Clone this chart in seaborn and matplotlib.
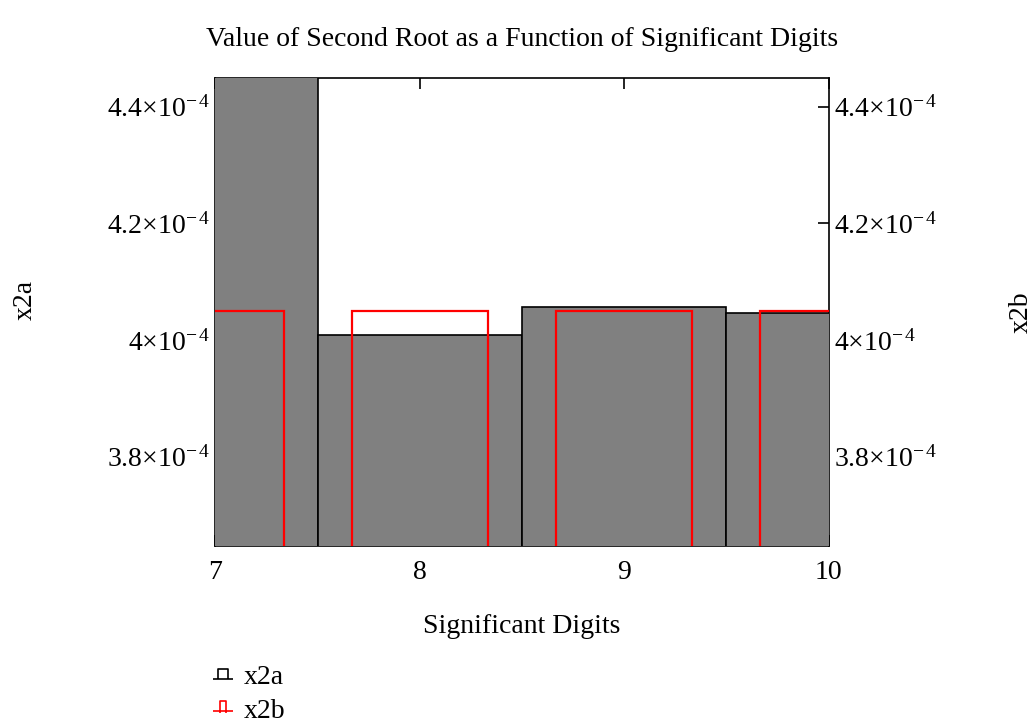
import matplotlib
matplotlib.use('Agg')
import matplotlib.pyplot as plt
import seaborn as sns
import pandas as pd
from matplotlib.path import Path
from matplotlib.lines import Line2D
from matplotlib.ticker import FuncFormatter, FixedLocator

# ── Data ──────────────────────────────────────────────────────────────────────
digits = [7, 8, 9, 10]
x2a = [4.52e-4, 4.009e-4, 4.057e-4, 4.046e-4]
x2b = [4.049e-4, 4.049e-4, 4.049e-4, 4.049e-4]
x_ticks = [7, 8, 9, 10]
y_ticks = [3.8e-4, 4.0e-4, 4.2e-4, 4.4e-4]
y_limits = (3.6475e-4, 4.449e-4)
series_names = ['x2a', 'x2b']

df = pd.DataFrame({'digits': digits, 'x2a': x2a, 'x2b': x2b})

plt.rcParams['font.family'] = ['Liberation Serif', 'DejaVu Serif']
plt.rcParams['mathtext.fontset'] = 'custom'
plt.rcParams['mathtext.rm'] = 'Liberation Serif'
plt.rcParams['mathtext.it'] = 'Liberation Serif:italic'

FS = 20

fig = plt.figure(figsize=(10.35, 7.25), dpi=100)
ax = fig.add_axes([0.2082, 0.2473, 0.5923, 0.6451])

# ── Bars ─────────────────────────────────────────────────────────────────────
sns.barplot(data=df, x='digits', y='x2a', native_scale=True, orient='x',
            width=1.0, color='#808080', saturation=1, edgecolor='black',
            linewidth=1.2, errorbar=None, ax=ax)
n_gray = len(ax.patches)
sns.barplot(data=df, x='digits', y='x2b', native_scale=True, orient='x',
            width=2/3, color='red', fill=False, linewidth=1.6,
            errorbar=None, ax=ax)
for i, p in enumerate(ax.patches):
    p.set_zorder(3 if i < n_gray else 4)

# ── Axes ─────────────────────────────────────────────────────────────────────
ax.set_xlim(7, 10)
ax.set_ylim(*y_limits)
ax.xaxis.set_major_locator(FixedLocator(x_ticks))
ax.yaxis.set_major_locator(FixedLocator(y_ticks))


def sci(v, pos):
    m = f'{v / 1e-4:.1f}'.rstrip('0').rstrip('.')
    return r'$\mathrm{' + m + r'{\times}10^{-\,4}}$'


ax.yaxis.set_major_formatter(FuncFormatter(sci))
ax.xaxis.set_major_formatter(FuncFormatter(lambda v, p: f'{v:g}'))
ax.tick_params(axis='both', which='both', direction='in', length=8,
               width=1.2, top=True, right=True, labelsize=FS)
ax.tick_params(axis='y', labelright=True, pad=4)
ax.tick_params(axis='x', pad=10)
for s in ax.spines.values():
    s.set_linewidth(1.2)
    s.set_zorder(2.5)

ax.set_title('Value of Second Root as a Function of Significant Digits',
             fontsize=FS, pad=23)
ax.set_xlabel('Significant Digits', fontsize=FS, labelpad=21.5)
ax.set_ylabel('x2a', fontsize=FS)
ax.yaxis.set_label_coords(-0.290, 0.525)
ax.text(1.314, 0.4997, 'x2b', rotation=90, ha='center', va='center',
        fontsize=FS, transform=ax.transAxes)

# ── Legend ───────────────────────────────────────────────────────────────────
icon_a = Path([(-1, -0.5), (1, -0.5), (-0.5, -0.5), (-0.5, 0.5), (0.5, 0.5), (0.5, -0.5)],
              [Path.MOVETO, Path.LINETO, Path.MOVETO, Path.LINETO, Path.LINETO, Path.LINETO])
icon_b = Path([(-1, -0.3), (1, -0.3), (-0.3, -0.5), (-0.3, 0.7), (0.3, 0.7), (0.3, -0.5)],
              [Path.MOVETO, Path.LINETO, Path.MOVETO, Path.LINETO, Path.LINETO, Path.LINETO])
handles = [
    Line2D([], [], linestyle='none', marker=icon_a, markersize=15,
           markerfacecolor='none', markeredgecolor='black', markeredgewidth=1.2),
    Line2D([], [], linestyle='none', marker=icon_b, markersize=15,
           markerfacecolor='none', markeredgecolor='red', markeredgewidth=1.2),
]
fig.legend(handles, series_names, loc='center left',
           bbox_to_anchor=(212 / 1035, 1 - 694 / 725), frameon=False,
           fontsize=FS, handlelength=0.8, handletextpad=0.35,
           labelspacing=0.3, borderpad=0, borderaxespad=0)

fig.savefig('out.png', dpi=100)
plt.close(fig)
